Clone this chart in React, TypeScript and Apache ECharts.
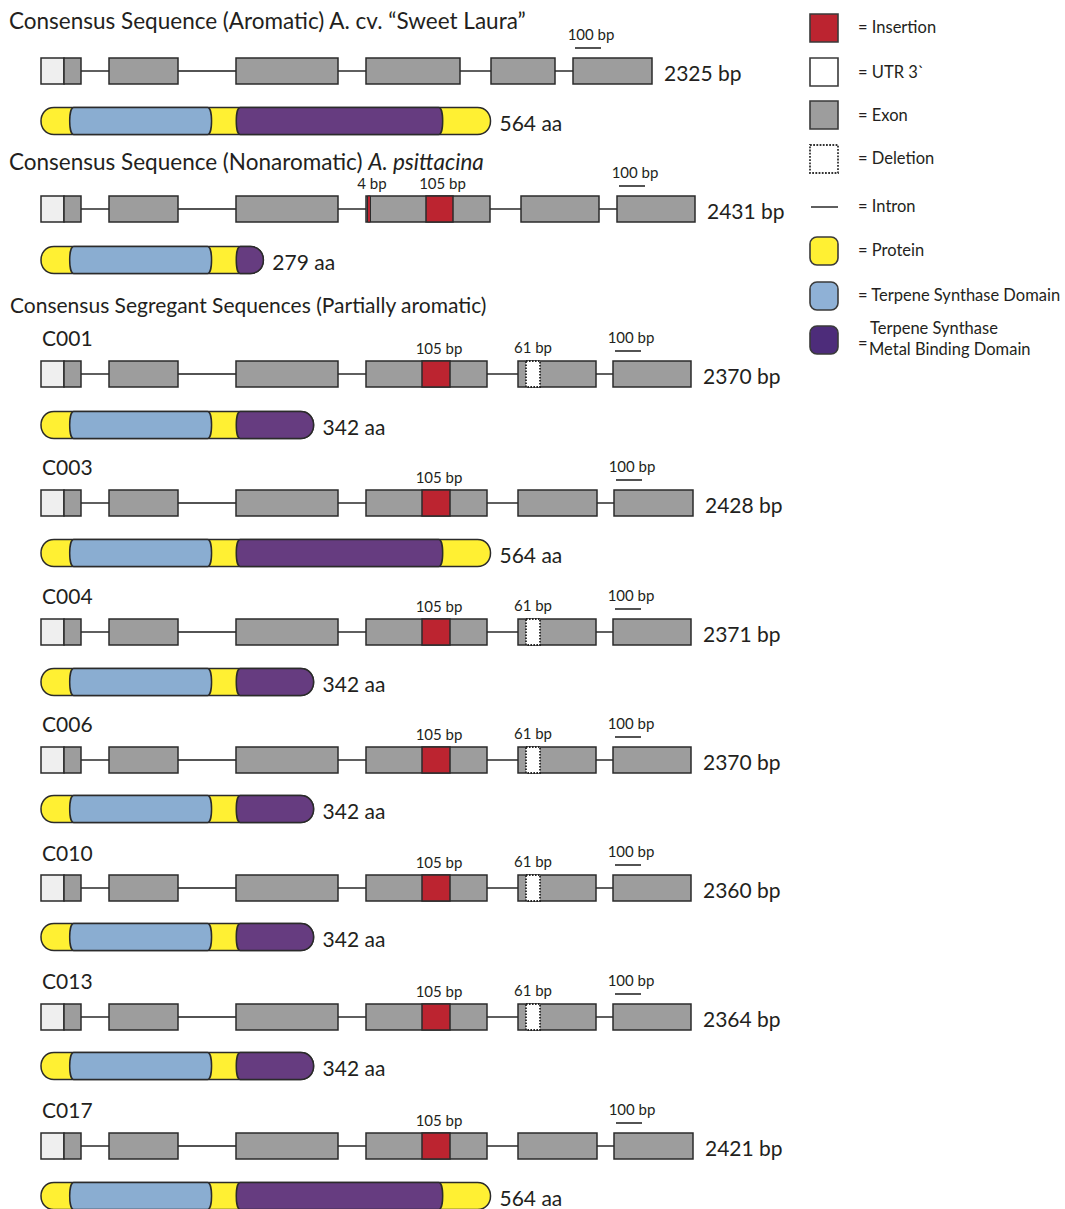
import React, { useEffect, useRef } from "react";
import * as echarts from "echarts";

const W = 1065;
const H = 1209;

// ---------- DATA ----------
const seqNames = ["Aromatic", "Nonaromatic", "C001", "C003", "C004", "C006", "C010", "C013", "C017"];
const geneLengthBp = [2325, 2431, 2370, 2428, 2371, 2370, 2360, 2364, 2421];
const proteinLengthAa = [564, 279, 342, 564, 342, 342, 342, 342, 564];
const structureOf = ["A", "N", "D", "I", "D", "D", "D", "D", "I"];

// gene structures (diagram units along the gene track)
const utr3 = [41, 64];
const exonsA = [[64, 81], [109, 178], [236, 338], [366, 460], [491, 555], [573, 652]];
const exonsN = [[64, 81], [109, 178], [236, 338], [366, 490], [521, 599], [617, 695]];
const exonsD = [[64, 81], [109, 178], [236, 338], [366, 487], [518, 596], [613, 691]];
const exonsI = [[64, 81], [109, 178], [236, 338], [366, 487], [518, 597], [614, 693]];
const insertionsN = [[367.5, 370.5, "4 bp"], [426, 453, "105 bp"]];
const insertionsSeg = [[422, 450, "105 bp"]];
const deletionsSeg = [[526, 540, "61 bp"]];
const scaleBarBp = 100;

// protein domains (aa)
const tpsDomainAa = [36, 214];
const metalDomainAa = [245, 504];

// ---------- LAYOUT ----------
const pxPerBp = 0.26;
const pxPerAa = 0.797;
const protStartPx = 41;
const geneRowY = [71, 209, 374, 503, 632, 760, 888, 1017, 1146];
const proteinRowY = [121, 260, 425, 553, 682, 809, 937, 1066, 1196];
const labelRowY = [20, 161, 337, 466, 595, 723, 852, 980, 1109];

const FONT = "Lato, 'Open Sans', sans-serif";
const TXT = "#231f20";
const STROKE = "#2b2b2b";
const C = {
  exon: "#9d9d9d",
  utr: "#efefef",
  ins: "#bc2430",
  yellow: "#fff033",
  blue: "#8aadd1",
  purple: "#663c80",
  legPurple: "#4d2c7a",
  legBlue: "#8fb1d6",
};

const exonsBy: Record<string, number[][]> = { A: exonsA, N: exonsN, D: exonsD, I: exonsI };
const insBy: Record<string, any[]> = { A: [], N: insertionsN, D: insertionsSeg, I: insertionsSeg };
const delBy: Record<string, any[]> = { A: [], N: [], D: deletionsSeg, I: [] };

function capsule(x0: number, x1: number, t: number, b: number, rl: number, rr: number) {
  const k = 4 / 3;
  return (
    `M${x0 + rl},${t} L${x1 - rr},${t} ` +
    `C${x1 - rr + k * rr},${t} ${x1 - rr + k * rr},${b} ${x1 - rr},${b} ` +
    `L${x0 + rl},${b} ` +
    `C${x0 + rl - k * rl},${b} ${x0 + rl - k * rl},${t} ${x0 + rl},${t} Z`
  );
}

function txt(text: string, x: number, y: number, size: number, align = "left", extra: any = {}) {
  return {
    type: "text",
    style: {
      text,
      x,
      y,
      fill: TXT,
      fontSize: size,
      fontFamily: FONT,
      align,
      textAlign: align,
      verticalAlign: "middle",
      textVerticalAlign: "middle",
      ...extra,
    },
  };
}

function renderGene(params: any, api: any) {
  const i = params.dataIndex;
  const st = structureOf[i];
  const exons = exonsBy[st];
  const yc = geneRowY[i];
  const X = (x: number) => api.coord([x, yc])[0];
  const Y = api.coord([0, yc])[1];
  const half = api.size([0, 26])[1] / 2;
  const top = Y - half;
  const children: any[] = [];

  const segs = [utr3, ...exons];
  for (let k = 0; k < segs.length - 1; k++) {
    children.push({
      type: "line",
      shape: { x1: X(segs[k][1]), y1: Y, x2: X(segs[k + 1][0]), y2: Y },
      style: { stroke: "#1a1a1a", lineWidth: 1.4 },
    });
  }
  const box = (a: number, b: number, fill: string, extra: any = {}) => ({
    type: "rect",
    shape: { x: X(a), y: top, width: X(b) - X(a), height: half * 2 },
    style: { fill, stroke: STROKE, lineWidth: 1.5, ...extra },
  });
  children.push(box(utr3[0], utr3[1], C.utr));
  exons.forEach((e) => children.push(box(e[0], e[1], C.exon)));
  insBy[st].forEach((s) => {
    children.push(box(s[0], s[1], C.ins, s[1] - s[0] < 5 ? { lineWidth: 1 } : {}));
    children.push(txt(s[2], (X(s[0]) + X(s[1])) / 2 + 3, top - 13, 15, "center"));
  });
  delBy[st].forEach((s) => {
    children.push(box(s[0], s[1], "#ffffff", { stroke: "#222", lineWidth: 1.8, lineDash: [1.6, 1.4] }));
    children.push(txt(s[2], (X(s[0]) + X(s[1])) / 2, top - 14, 15, "center"));
  });
  // scale bar above last exon
  const last = exons[exons.length - 1];
  const sb0 = X(last[0] + 2);
  const sb1 = X(last[0] + 2 + scaleBarBp * pxPerBp);
  children.push({
    type: "line",
    shape: { x1: sb0, y1: top - 10, x2: sb1, y2: top - 10 },
    style: { stroke: "#1a1a1a", lineWidth: 1.5 },
  });
  children.push(txt(`${scaleBarBp} bp`, (sb0 + sb1) / 2 + 3, top - 24, 15, "center"));
  // length label
  children.push(txt(`${geneLengthBp[i]} bp`, X(last[1]) + 12, Y + 1, 21));
  // row label
  const ly = api.coord([0, labelRowY[i]])[1];
  if (i === 0) {
    children.push(txt("Consensus Sequence (Aromatic) A. cv. \u201CSweet Laura\u201D", X(9), ly, 22.5));
  } else if (i === 1) {
    children.push({
      type: "text",
      style: {
        text: "Consensus Sequence (Nonaromatic) {i|A. psittacina}",
        x: X(9),
        y: ly,
        fill: TXT,
        fontSize: 22.5,
        fontFamily: FONT,
        verticalAlign: "middle",
        textVerticalAlign: "middle",
        rich: { i: { fontStyle: "italic", fontSize: 22.5, fontFamily: FONT, fill: TXT } },
      },
    });
  } else {
    children.push(txt(seqNames[i], X(42), ly, 21));
  }
  return { type: "group", children };
}

function renderProtein(params: any, api: any) {
  const i = params.dataIndex;
  const L = proteinLengthAa[i];
  const yc = proteinRowY[i];
  const X = (x: number) => api.coord([x, yc])[0];
  const Y = api.coord([0, yc])[1];
  const half = api.size([0, 27])[1] / 2;
  const t = Y - half;
  const b = Y + half;
  const children: any[] = [];
  const st = { stroke: STROKE, lineWidth: 1.5 };
  children.push({
    type: "path",
    shape: { pathData: capsule(X(0), X(L), t, b, 13, 13) },
    style: { fill: C.yellow, ...st },
  });
  children.push({
    type: "path",
    shape: { pathData: capsule(X(tpsDomainAa[0]), X(Math.min(tpsDomainAa[1], L)), t, b, 4, 4) },
    style: { fill: C.blue, ...st },
  });
  const mEnd = Math.min(metalDomainAa[1], L);
  const truncated = L < metalDomainAa[1];
  children.push({
    type: "path",
    shape: { pathData: capsule(X(metalDomainAa[0]), X(mEnd), t, b, 4, truncated ? 13 : 4) },
    style: { fill: C.purple, ...st },
  });
  children.push(txt(`${L} aa`, X(L) + 9, Y + 1, 21));
  return { type: "group", children };
}

function legend() {
  const items: any[] = [];
  const sw = (y: number, fill: string, extra: any = {}, r = 0) => ({
    type: "rect",
    shape: { x: 810, y, width: 28, height: 28, r },
    style: { fill, stroke: "#3a3a3a", lineWidth: 1.6, ...extra },
  });
  const lt = (text: string, x: number, y: number) => ({
    type: "text",
    x,
    y,
    style: { text, fill: TXT, fontSize: 16.5, fontFamily: FONT, textVerticalAlign: "middle", verticalAlign: "middle" },
  });
  items.push(sw(14, C.ins), lt("= Insertion", 858, 27));
  items.push(sw(58, "#ffffff"), lt("= UTR 3`", 858, 72));
  items.push(sw(101, C.exon), lt("= Exon", 858, 115));
  items.push(sw(145, "#ffffff", { lineDash: [1.8, 1.4], stroke: "#333", lineWidth: 1.8 }), lt("= Deletion", 858, 158));
  items.push({
    type: "line",
    shape: { x1: 811, y1: 207, x2: 838, y2: 207 },
    style: { stroke: "#1a1a1a", lineWidth: 1.4 },
  });
  items.push(lt("= Intron", 858, 206));
  items.push(sw(237, C.yellow, {}, 7), lt("= Protein", 858, 250));
  items.push(sw(282, C.legBlue, {}, 7), lt("= Terpene Synthase Domain", 858, 295));
  items.push(sw(326, C.legPurple, {}, 7));
  items.push(lt("=", 858, 343), lt("Terpene Synthase", 870, 328), lt("Metal Binding Domain", 869, 349));
  return items;
}

export default function App() {
  const ref = useRef<HTMLDivElement>(null);
  useEffect(() => {
    document.body.style.margin = "0";
    if (!ref.current) return;
    const chart = echarts.init(ref.current, undefined, { renderer: "svg" });
    chart.setOption({
      animation: false,
      backgroundColor: "#ffffff",
      grid: { left: 0, right: 0, top: 0, bottom: 0 },
      xAxis: [
        { type: "value", min: 0, max: W, show: false },
        { type: "value", min: -protStartPx / pxPerAa, max: (W - protStartPx) / pxPerAa, show: false },
      ],
      yAxis: { type: "value", min: 0, max: H, inverse: true, show: false },
      series: [
        {
          type: "custom",
          name: "gene",
          xAxisIndex: 0,
          yAxisIndex: 0,
          clip: false,
          silent: true,
          data: seqNames.map((_, i) => [0, geneRowY[i]]),
          renderItem: renderGene,
        },
        {
          type: "custom",
          name: "protein",
          xAxisIndex: 1,
          yAxisIndex: 0,
          clip: false,
          silent: true,
          data: seqNames.map((_, i) => [0, proteinRowY[i]]),
          renderItem: renderProtein,
        },
      ],
      graphic: {
        elements: [
          ...legend(),
          {
            type: "text",
            x: 10,
            y: 304,
            style: {
              text: "Consensus Segregant Sequences (Partially aromatic)",
              fill: TXT,
              fontSize: 21,
              fontFamily: FONT,
              textVerticalAlign: "middle",
              verticalAlign: "middle",
            },
          },
        ],
      },
    });
    return () => chart.dispose();
  }, []);
  return <div ref={ref} style={{ width: W, height: H }} />;
}
